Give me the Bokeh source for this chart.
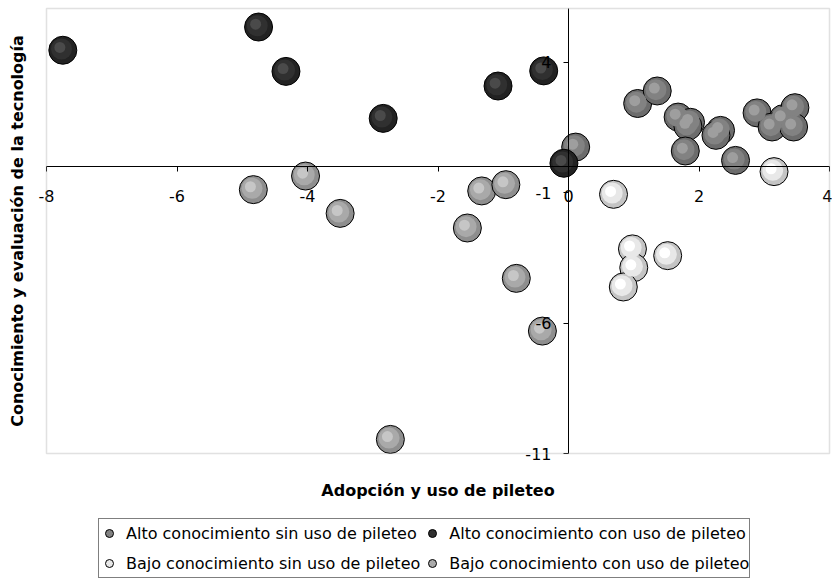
import math
from bokeh.plotting import figure
from bokeh.models import (ColumnDataSource, Legend, LegendItem, Label,
                          FixedTicker, Range1d, BoxAnnotation,
                          CustomJSTickFormatter)
from bokeh.transform import dodge
from bokeh.embed import file_html
from bokeh.resources import INLINE

# ---------------- data ----------------
series_names = [
    "Alto conocimiento sin uso de pileteo",
    "Alto conocimiento con uso de pileteo",
    "Bajo conocimiento sin uso de pileteo",
    "Bajo conocimiento con uso de pileteo",
]
alto_sin_x = [0.11, 1.06, 1.36, 1.68, 1.87, 1.83, 2.33, 2.26, 1.79, 2.56, 2.89, 3.29, 3.47, 3.12, 3.45]
alto_sin_y = [0.74, 2.41, 2.89, 1.89, 1.69, 1.54, 1.38, 1.19, 0.59, 0.23, 2.05, 1.83, 2.25, 1.51, 1.51]
alto_con_x = [-7.75, -4.75, -4.33, -2.84, -1.08, -0.38, -0.07]
alto_con_y = [4.45, 5.34, 3.64, 1.84, 3.08, 3.66, 0.12]
bajo_sin_x = [0.69, 3.15, 0.98, 1.52, 1.00, 0.84]
bajo_sin_y = [-1.07, -0.20, -3.16, -3.42, -3.88, -4.62]
bajo_con_x = [-4.83, -4.03, -3.50, -1.33, -0.96, -1.55, -0.80, -0.40, -2.73]
bajo_con_y = [-0.89, -0.37, -1.80, -0.94, -0.70, -2.36, -4.29, -6.31, -10.46]

x_ticks = [-8, -6, -4, -2, 0, 2, 4]
y_ticks = [-11, -6, -1, 4]
x_limits = (-8, 4)
y_limits = (-11, 6.05)

x_title = "Adopción y uso de pileteo"
y_title = "Conocimiento y evaluación de la tecnología"

# ---------------- layout (pixels) ----------------
W, H = 832, 579
AREA_L, AREA_R, AREA_T, AREA_B = 46, 829, 8, 453   # visible plot area
px_x = (AREA_R - AREA_L) / (x_limits[1] - x_limits[0])
px_y = (AREA_B - AREA_T) / (y_limits[1] - y_limits[0])
xr = Range1d(x_limits[0] - AREA_L / px_x, x_limits[1] + (W - AREA_R) / px_x)
yr = Range1d(y_limits[0] - (H - AREA_B) / px_y, y_limits[1] + AREA_T / px_y)

# (rim, main, highlight) tones to mimic shaded spheres
tones = [
    ("#6c6c6c", "#828282", "#9e9e9e"),
    ("#222222", "#303030", "#4a4a4a"),
    ("#c4c4c4", "#e8e8e8", "#ffffff"),
    ("#8e8e8e", "#a9a9a9", "#c6c6c6"),
]
FONT = "DejaVu Sans"

p = figure(frame_width=W, frame_height=H,
           x_range=xr, y_range=yr,
           output_backend="svg", toolbar_location=None,
           min_border_left=0, min_border_right=0, min_border_top=0,
           min_border_bottom=0)
p.background_fill_color = "white"
p.border_fill_color = "white"
p.outline_line_color = None
p.xgrid.visible = False
p.ygrid.visible = False

# plot-area border
p.add_layout(BoxAnnotation(left=x_limits[0], right=x_limits[1],
                           bottom=y_limits[0], top=y_limits[1],
                           fill_alpha=0, line_color="#9a9a9a", line_width=1.5))

# axes crossing at the origin
p.xaxis.fixed_location = 0
p.yaxis.fixed_location = 0
p.xaxis.bounds = x_limits
p.yaxis.bounds = y_limits
p.xaxis.ticker = FixedTicker(ticks=x_ticks)
p.yaxis.ticker = FixedTicker(ticks=y_ticks)
for ax in (p.xaxis, p.yaxis):
    ax.formatter = CustomJSTickFormatter(code="return tick.toString()")
    ax.axis_line_color = "black"
    ax.axis_line_width = 1
    ax.major_tick_line_color = "black"
    ax.major_tick_in = 0
    ax.major_tick_out = 5
    ax.minor_tick_line_color = None
    ax.major_label_text_font = FONT
    ax.major_label_text_font_size = "16px"
    ax.major_label_text_color = "black"
p.xaxis.major_label_standoff = 19
p.yaxis.major_label_standoff = 12

data = [
    (alto_sin_x, alto_sin_y),
    (alto_con_x, alto_con_y),
    (bajo_sin_x, bajo_sin_y),
    (bajo_con_x, bajo_con_y),
]

legend_renderers = []
for (xs, ys), (rim, main, hi) in zip(data, tones):
    src = ColumnDataSource(dict(x=xs, y=ys))
    p.scatter("x", "y", source=src, size=28, fill_color=rim,
              line_color="black", line_width=1)
    p.scatter(dodge("x", -0.02), dodge("y", 0.05), source=src, size=21,
              fill_color=main, line_color=None)
    p.scatter(dodge("x", -0.045), dodge("y", 0.11), source=src, size=11,
              fill_color=hi, line_color=None)
    lr = p.scatter("x", "y", source=src, size=12, fill_color=main,
                   line_color="black", line_width=1)
    lr.visible = False
    legend_renderers.append(lr)

# axis titles
p.add_layout(Label(x=(x_limits[0] + x_limits[1]) / 2, y=H - 490, y_units="screen",
                   text=x_title, text_align="center", text_baseline="middle",
                   text_font=FONT, text_font_size="16px", text_font_style="bold",
                   text_color="black"))
p.add_layout(Label(x=17, x_units="screen", y=(y_limits[0] + y_limits[1]) / 2,
                   text=y_title, angle=math.pi / 2,
                   text_align="center", text_baseline="middle",
                   text_font=FONT, text_font_size="16px", text_font_style="bold",
                   text_color="black"))

legend = Legend(
    items=[LegendItem(label=n, renderers=[r]) for n, r in zip(series_names, legend_renderers)],
    ncols=2, orientation="horizontal", location=(98, 1),
    glyph_width=20, glyph_height=28, label_height=28, label_standoff=7,
    spacing=2, padding=0, margin=0,
    border_line_color="black", border_line_width=1,
    background_fill_color="white", background_fill_alpha=1,
    label_text_font=FONT, label_text_font_size="16px",
    label_text_color="black",
    click_policy="none",
)
p.add_layout(legend, "center")

open("out.html", "w").write(file_html(p, INLINE))
